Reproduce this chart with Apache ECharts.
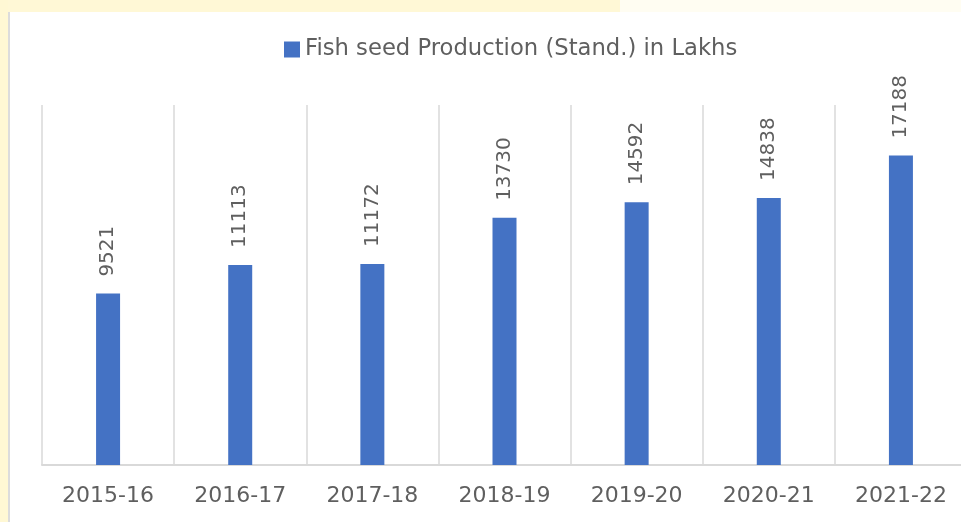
<!DOCTYPE html>
<html>
<head>
<meta charset="utf-8">
<script src="https://cdn.jsdelivr.net/npm/echarts@6/dist/echarts.min.js"></script>
<style>
  html, body { margin: 0; padding: 0; width: 961px; height: 522px; overflow: hidden; background: #fffdf2; }
  .band-top { position: absolute; left: 0; top: 0; width: 620px; height: 12px; background: #fff8d6; }
  .band-left { position: absolute; left: 0; top: 0; width: 8px; height: 522px; background: #fff8d4; }
  .card { position: absolute; left: 8px; top: 12px; width: 980px; height: 510px; background: #fff; border-left: 2px solid #dcdcdc; }
  #chart { position: absolute; left: 0; top: 0; width: 970px; height: 510px; }
</style>
</head>
<body>
<div class="band-top"></div>
<div class="band-left"></div>
<div class="card"><div id="chart"></div></div>
<script>
  // data
  var years = ["2015-16", "2016-17", "2017-18", "2018-19", "2019-20", "2020-21", "2021-22"];
  var production = [9521, 11113, 11172, 13730, 14592, 14838, 17188];
  var seriesName = "Fish seed Production (Stand.) in Lakhs";

  var myChart = echarts.init(document.getElementById("chart"));
  var option = {
    animation: false,
    textStyle: { fontFamily: "DejaVu Sans" },
    legend: {
      show: true,
      left: 269,
      top: 21,
      itemWidth: 16,
      itemHeight: 16,
      itemGap: 6,
      textStyle: { color: "#5f5f5f", fontSize: 22.7, fontFamily: "DejaVu Sans" },
      data: [{ name: seriesName, icon: "rect" }]
    },
    grid: {
      left: 32,
      right: 13,
      top: 93,
      bottom: 57
    },
    xAxis: {
      type: "category",
      data: years,
      axisLine: { lineStyle: { color: "#d9d9d9", width: 2 } },
      axisTick: { show: false },
      splitLine: { show: true, lineStyle: { color: "#d9d9d9", width: 1.5 } },
      axisLabel: { color: "#5f5f5f", fontSize: 22, margin: 20, fontFamily: "DejaVu Sans" }
    },
    yAxis: {
      type: "value",
      min: 0,
      max: 20000,
      show: false,
      splitLine: { show: false }
    },
    series: [
      {
        name: seriesName,
        type: "bar",
        data: production,
        barWidth: 24,
        itemStyle: { color: "#4472c4" },
        label: {
          show: true,
          position: "top",
          rotate: 90,
          align: "left",
          verticalAlign: "middle",
          distance: 15,
          offset: [2, 0],
          color: "#5f5f5f",
          fontSize: 20,
          fontFamily: "DejaVu Sans"
        }
      }
    ]
  };
  option && myChart.setOption(option);
</script>
</body>
</html>
